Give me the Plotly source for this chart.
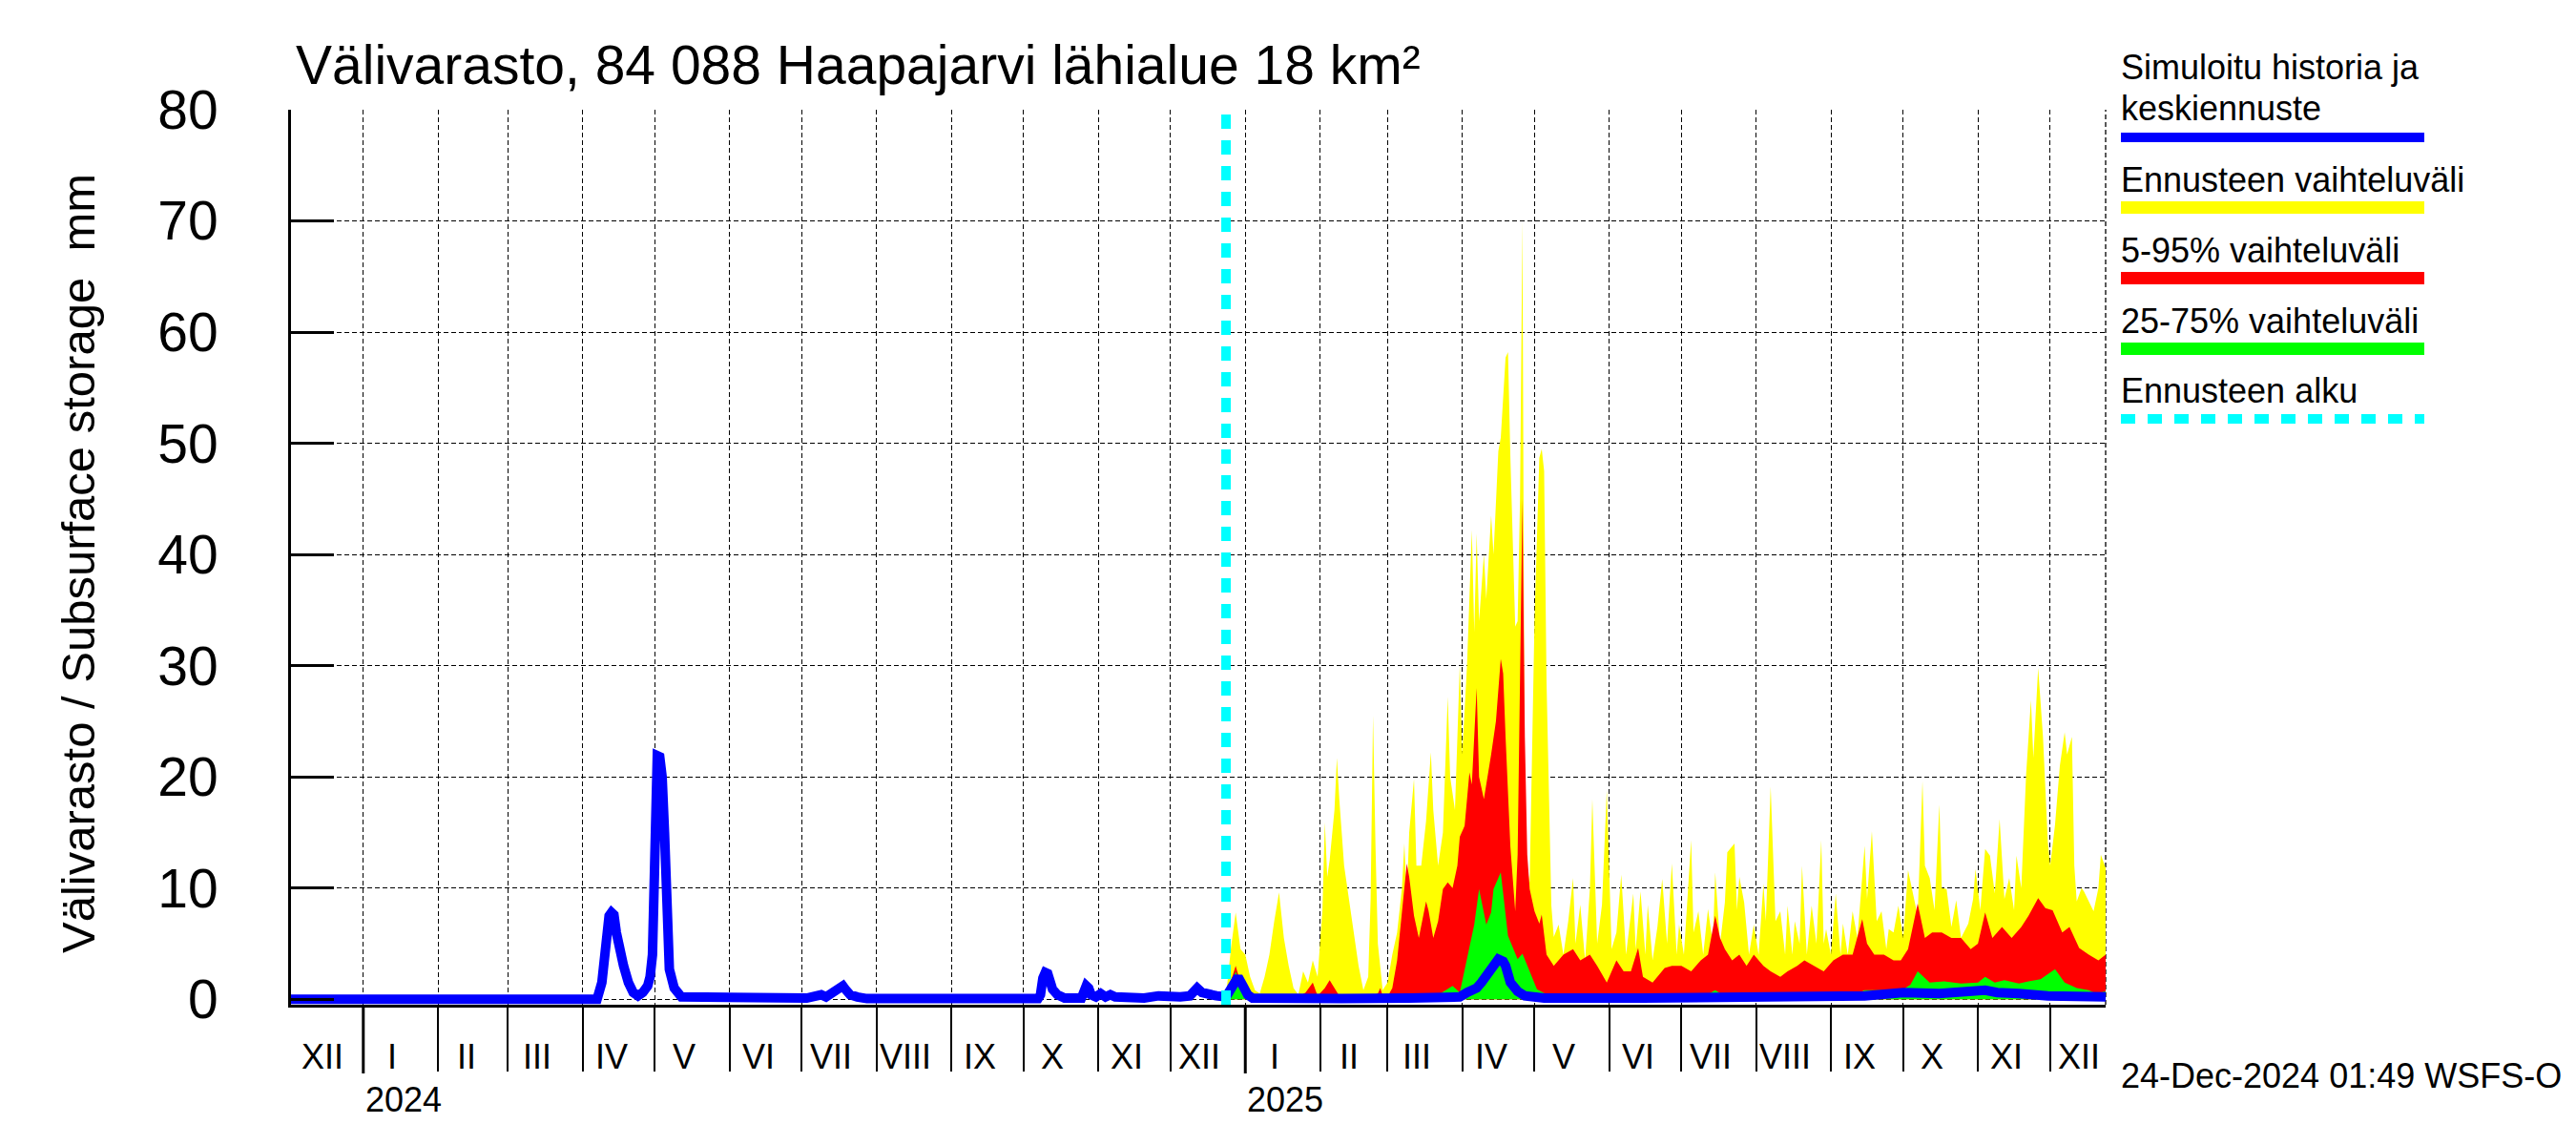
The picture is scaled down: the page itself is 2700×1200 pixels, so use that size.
import plotly.graph_objects as go
import pandas as pd

# ---------------- data ----------------
x_start, x_end = "2023-12-02", "2025-12-24"
forecast_start = "2024-12-24"
y_ticks = [0, 10, 20, 30, 40, 50, 60, 70, 80]
roman = ["I", "II", "III", "IV", "V", "VI", "VII", "VIII", "IX", "X", "XI", "XII"]
year_starts = ["2024-01-01", "2025-01-01"]
year_labels = ["2024", "2025"]

hist_dates = ["2023-12-02", "2024-04-07", "2024-04-09", "2024-04-10", "2024-04-11", "2024-04-12",
              "2024-04-13", "2024-04-14", "2024-04-15", "2024-04-16", "2024-04-18", "2024-04-20",
              "2024-04-22", "2024-04-24", "2024-04-26", "2024-04-28", "2024-04-29", "2024-04-30",
              "2024-05-01", "2024-05-02", "2024-05-03", "2024-05-04", "2024-05-05", "2024-05-06",
              "2024-05-07", "2024-05-09", "2024-05-12", "2024-07-03", "2024-07-06", "2024-07-09",
              "2024-07-11", "2024-07-13", "2024-07-15", "2024-07-17", "2024-07-18", "2024-07-19",
              "2024-07-21", "2024-07-24", "2024-07-28", "2024-10-07", "2024-10-08", "2024-10-09",
              "2024-10-10", "2024-10-11", "2024-10-12", "2024-10-13", "2024-10-15", "2024-10-18",
              "2024-10-25", "2024-10-27", "2024-10-28", "2024-10-29", "2024-10-31", "2024-11-02",
              "2024-11-04", "2024-11-06", "2024-11-08", "2024-11-12", "2024-11-20", "2024-11-26",
              "2024-12-01", "2024-12-05", "2024-12-09", "2024-12-11", "2024-12-12", "2024-12-14",
              "2024-12-17", "2024-12-20", "2024-12-24"]
hist_vals = [0.0, 0.0, 1.5, 3.5, 6.0, 7.5,
             7.8, 7.6, 6.0, 4.8, 3.0, 1.5,
             0.6, 0.3, 0.6, 1.2, 2.0, 4.0,
             14.5, 21.9, 21.8, 20.0, 15.0, 6.0,
             2.7, 1.0, 0.2, 0.1, 0.3, 0.4,
             0.2, 0.5, 0.6, 0.9, 1.2, 0.9,
             0.4, 0.2, 0.05, 0.05, 0.4, 1.9,
             2.4, 2.3, 1.6, 0.9, 0.4, 0.1,
             0.1, 1.2, 1.0, 0.4, 0.2, 0.5,
             0.2, 0.4, 0.2, 0.1, 0.1, 0.3,
             0.2, 0.2, 0.3, 0.8, 1.0, 0.6,
             0.4, 0.3, 0.2]

med_dates = ["2024-12-24", "2024-12-26", "2024-12-28", "2024-12-29", "2024-12-31", "2025-01-02",
             "2025-01-04", "2025-01-15", "2025-02-10", "2025-03-10", "2025-03-31", "2025-04-03",
             "2025-04-07", "2025-04-09", "2025-04-12", "2025-04-14", "2025-04-16", "2025-04-18",
             "2025-04-19", "2025-04-21", "2025-04-24", "2025-04-27", "2025-05-05", "2025-06-15",
             "2025-07-15", "2025-08-15", "2025-09-15", "2025-10-01", "2025-10-16", "2025-11-04",
             "2025-11-09", "2025-11-18", "2025-11-30", "2025-12-24"]
med_vals = [0.2, 1.0, 1.8, 2.0, 1.2, 0.4,
            0.1, 0.05, 0.05, 0.1, 0.2, 0.6,
            1.0, 1.5, 2.3, 3.0, 3.6, 3.4,
            3.0, 1.5, 0.7, 0.3, 0.1, 0.1,
            0.15, 0.15, 0.3, 0.6, 0.5, 0.8,
            0.6, 0.5, 0.3, 0.2]

yellow = [
    ("2024-12-24", 0.3), ("2024-12-26", 4.5), ("2024-12-28", 7.8), ("2024-12-30", 4.5),
    ("2025-01-01", 4.0), ("2025-01-03", 2.0), ("2025-01-05", 0.8), ("2025-01-07", 0.5), ("2025-01-09", 2.0),
    ("2025-01-11", 4.0), ("2025-01-13", 7.0), ("2025-01-15", 9.6), ("2025-01-17", 5.5), ("2025-01-19", 3.0),
    ("2025-01-21", 1.0), ("2025-01-23", 0.4), ("2025-01-25", 2.5), ("2025-01-27", 1.5), ("2025-01-29", 3.5),
    ("2025-01-31", 2.0),
    ("2025-02-02", 8.0), ("2025-02-03", 15.9), ("2025-02-04", 11.0), ("2025-02-05", 12.5), ("2025-02-07", 17.0),
    ("2025-02-08", 21.7), ("2025-02-09", 18.0), ("2025-02-11", 12.0), ("2025-02-13", 9.0), ("2025-02-15", 6.0),
    ("2025-02-17", 3.0), ("2025-02-19", 0.8), ("2025-02-21", 2.0), ("2025-02-22", 9.0), ("2025-02-23", 25.5),
    ("2025-02-24", 14.0), ("2025-02-25", 5.0), ("2025-02-27", 0.8),
    ("2025-03-01", 1.5), ("2025-03-03", 4.0), ("2025-03-05", 6.0), ("2025-03-07", 10.0), ("2025-03-08", 14.0),
    ("2025-03-09", 9.0), ("2025-03-10", 15.0), ("2025-03-12", 19.8), ("2025-03-13", 12.0), ("2025-03-15", 12.0),
    ("2025-03-17", 16.0), ("2025-03-19", 22.2), ("2025-03-20", 17.0), ("2025-03-22", 12.0), ("2025-03-24", 15.0),
    ("2025-03-26", 27.2), ("2025-03-27", 20.0), ("2025-03-29", 17.0), ("2025-03-31", 30.1),
    ("2025-04-01", 22.0), ("2025-04-03", 30.0), ("2025-04-05", 42.2), ("2025-04-06", 33.0), ("2025-04-07", 41.9),
    ("2025-04-08", 34.0), ("2025-04-10", 40.0), ("2025-04-11", 36.0), ("2025-04-13", 43.5), ("2025-04-14", 40.0),
    ("2025-04-16", 49.3), ("2025-04-17", 50.5), ("2025-04-19", 57.7), ("2025-04-20", 58.2), ("2025-04-21", 48.7),
    ("2025-04-23", 33.5), ("2025-04-24", 34.0), ("2025-04-25", 45.0), ("2025-04-26", 70.0), ("2025-04-27", 13.0),
    ("2025-04-29", 10.5),
    ("2025-05-01", 34.0), ("2025-05-03", 48.7), ("2025-05-04", 49.5), ("2025-05-05", 47.5), ("2025-05-06", 28.5),
    ("2025-05-08", 8.4), ("2025-05-09", 5.6), ("2025-05-11", 6.7), ("2025-05-13", 4.0), ("2025-05-15", 7.0),
    ("2025-05-17", 10.9), ("2025-05-18", 5.0), ("2025-05-20", 8.5), ("2025-05-22", 3.5), ("2025-05-24", 10.0),
    ("2025-05-25", 18.0), ("2025-05-27", 5.0), ("2025-05-29", 8.5), ("2025-05-31", 18.8),
    ("2025-06-02", 4.5), ("2025-06-04", 6.0), ("2025-06-06", 11.2), ("2025-06-08", 4.0), ("2025-06-11", 9.5),
    ("2025-06-12", 4.5), ("2025-06-14", 9.7), ("2025-06-16", 4.0), ("2025-06-17", 8.5), ("2025-06-19", 3.5),
    ("2025-06-21", 6.5), ("2025-06-23", 10.8), ("2025-06-25", 5.0), ("2025-06-27", 12.2), ("2025-06-29", 4.0),
    ("2025-06-30", 6.7),
    ("2025-07-02", 4.0), ("2025-07-05", 14.3), ("2025-07-06", 6.0), ("2025-07-08", 7.9), ("2025-07-10", 4.0),
    ("2025-07-12", 8.1), ("2025-07-14", 5.0), ("2025-07-15", 11.4), ("2025-07-17", 5.0), ("2025-07-19", 8.7),
    ("2025-07-20", 13.2), ("2025-07-23", 14.0), ("2025-07-24", 8.0), ("2025-07-25", 11.0), ("2025-07-27", 8.7),
    ("2025-07-29", 4.0), ("2025-07-31", 6.7),
    ("2025-08-02", 4.0), ("2025-08-04", 10.4), ("2025-08-05", 7.0), ("2025-08-07", 19.1), ("2025-08-09", 7.0),
    ("2025-08-11", 7.9), ("2025-08-13", 4.0), ("2025-08-14", 8.4), ("2025-08-16", 4.0), ("2025-08-17", 7.0),
    ("2025-08-19", 5.0), ("2025-08-20", 12.0), ("2025-08-22", 4.0), ("2025-08-24", 8.4), ("2025-08-26", 5.0),
    ("2025-08-28", 14.3), ("2025-08-29", 5.0), ("2025-08-30", 6.3),
    ("2025-09-01", 4.0), ("2025-09-03", 9.5), ("2025-09-05", 4.0), ("2025-09-06", 6.8), ("2025-09-08", 4.0),
    ("2025-09-10", 7.9), ("2025-09-12", 5.5), ("2025-09-15", 13.8), ("2025-09-16", 9.0), ("2025-09-18", 15.1),
    ("2025-09-20", 7.0), ("2025-09-22", 7.9), ("2025-09-24", 4.5), ("2025-09-25", 6.3), ("2025-09-27", 6.0),
    ("2025-09-29", 8.4),
    ("2025-10-01", 5.5), ("2025-10-03", 11.6), ("2025-10-05", 9.5), ("2025-10-07", 7.5), ("2025-10-09", 19.6),
    ("2025-10-10", 12.0), ("2025-10-12", 10.9), ("2025-10-14", 8.0), ("2025-10-16", 17.5), ("2025-10-17", 10.0),
    ("2025-10-19", 9.9), ("2025-10-21", 6.5), ("2025-10-23", 8.9), ("2025-10-25", 5.5), ("2025-10-28", 6.8),
    ("2025-10-30", 9.0), ("2025-10-31", 11.7),
    ("2025-11-02", 8.0), ("2025-11-04", 13.5), ("2025-11-06", 12.9), ("2025-11-08", 9.5), ("2025-11-10", 16.2),
    ("2025-11-12", 9.0), ("2025-11-14", 10.9), ("2025-11-16", 8.0), ("2025-11-17", 12.9), ("2025-11-19", 10.0),
    ("2025-11-21", 20.2), ("2025-11-23", 26.9), ("2025-11-24", 21.7), ("2025-11-26", 29.8), ("2025-11-28", 23.6),
    ("2025-11-30", 14.2),
    ("2025-12-01", 12.0), ("2025-12-03", 15.7), ("2025-12-05", 21.0), ("2025-12-07", 24.0), ("2025-12-08", 22.0),
    ("2025-12-10", 23.6), ("2025-12-11", 12.0), ("2025-12-12", 8.8), ("2025-12-14", 10.0), ("2025-12-15", 9.7),
    ("2025-12-17", 8.8), ("2025-12-19", 7.9), ("2025-12-21", 10.0), ("2025-12-22", 13.0), ("2025-12-24", 11.8),
]

red = [
    ("2024-12-24", 0.2), ("2024-12-26", 1.5), ("2024-12-28", 3.0), ("2024-12-30", 1.5), ("2025-01-01", 0.8),
    ("2025-01-03", 0.3), ("2025-01-06", 0.1), ("2025-01-22", 0.1), ("2025-01-26", 0.6), ("2025-01-29", 1.5),
    ("2025-01-31", 0.3), ("2025-02-03", 1.0), ("2025-02-05", 1.7), ("2025-02-07", 1.0), ("2025-02-09", 0.3),
    ("2025-02-20", 0.1), ("2025-02-25", 0.5), ("2025-02-26", 1.0), ("2025-02-27", 0.3), ("2025-03-01", 0.2),
    ("2025-03-03", 1.0), ("2025-03-05", 3.5), ("2025-03-07", 8.0), ("2025-03-09", 12.2), ("2025-03-10", 11.0),
    ("2025-03-12", 7.5), ("2025-03-14", 5.5), ("2025-03-17", 8.8), ("2025-03-18", 8.0), ("2025-03-20", 5.5),
    ("2025-03-22", 7.0), ("2025-03-24", 9.9), ("2025-03-26", 10.5), ("2025-03-28", 10.0), ("2025-03-30", 12.0),
    ("2025-03-31", 14.6), ("2025-04-02", 15.6), ("2025-04-04", 20.4), ("2025-04-05", 19.3), ("2025-04-07", 28.0),
    ("2025-04-08", 20.0), ("2025-04-10", 18.0), ("2025-04-13", 22.0), ("2025-04-15", 25.0), ("2025-04-17", 30.6),
    ("2025-04-18", 29.3), ("2025-04-19", 23.6), ("2025-04-20", 18.9), ("2025-04-21", 13.7), ("2025-04-23", 7.9),
    ("2025-04-24", 13.0), ("2025-04-25", 28.9), ("2025-04-26", 45.0), ("2025-04-27", 23.6), ("2025-04-28", 13.0),
    ("2025-04-29", 9.9), ("2025-05-01", 7.9), ("2025-05-03", 6.8), ("2025-05-04", 7.6), ("2025-05-06", 4.0),
    ("2025-05-09", 3.0), ("2025-05-13", 4.0), ("2025-05-17", 4.5), ("2025-05-20", 3.5), ("2025-05-24", 4.0),
    ("2025-05-27", 3.0), ("2025-05-31", 1.5), ("2025-06-04", 3.5), ("2025-06-07", 2.5), ("2025-06-10", 2.5),
    ("2025-06-13", 4.6), ("2025-06-15", 2.0), ("2025-06-19", 1.5), ("2025-06-24", 2.8), ("2025-06-27", 3.0),
    ("2025-07-01", 3.0), ("2025-07-05", 2.5), ("2025-07-09", 3.5), ("2025-07-12", 4.0), ("2025-07-15", 7.5),
    ("2025-07-17", 5.5), ("2025-07-19", 4.5), ("2025-07-22", 3.5), ("2025-07-25", 4.0), ("2025-07-28", 3.0),
    ("2025-07-31", 4.0), ("2025-08-04", 3.0), ("2025-08-07", 2.5), ("2025-08-11", 2.0), ("2025-08-14", 2.5),
    ("2025-08-18", 3.0), ("2025-08-21", 3.5), ("2025-08-25", 3.0), ("2025-08-29", 2.5), ("2025-09-02", 3.5),
    ("2025-09-06", 4.0), ("2025-09-10", 4.0), ("2025-09-14", 7.2), ("2025-09-16", 5.0), ("2025-09-19", 4.0),
    ("2025-09-23", 4.0), ("2025-09-27", 3.5), ("2025-09-30", 3.5), ("2025-10-03", 4.5), ("2025-10-07", 8.6),
    ("2025-10-10", 5.5), ("2025-10-13", 6.0), ("2025-10-17", 6.0), ("2025-10-21", 5.5), ("2025-10-25", 5.5),
    ("2025-10-29", 4.5), ("2025-11-01", 5.0), ("2025-11-04", 7.8), ("2025-11-07", 5.5), ("2025-11-11", 6.5),
    ("2025-11-15", 5.5), ("2025-11-19", 6.5), ("2025-11-22", 7.5), ("2025-11-26", 9.1), ("2025-11-29", 8.2),
    ("2025-12-02", 8.0), ("2025-12-06", 6.0), ("2025-12-09", 6.5), ("2025-12-13", 4.6), ("2025-12-17", 4.0),
    ("2025-12-21", 3.5), ("2025-12-24", 4.0),
]

green = [
    ("2024-12-24", 0.1), ("2024-12-26", 1.0), ("2024-12-28", 2.5), ("2024-12-30", 1.2), ("2025-01-01", 0.4),
    ("2025-01-03", 0.1), ("2025-03-20", 0.1), ("2025-03-25", 0.8), ("2025-03-28", 1.2), ("2025-03-31", 0.6),
    ("2025-04-03", 3.6), ("2025-04-06", 6.7), ("2025-04-08", 9.9), ("2025-04-11", 6.7), ("2025-04-13", 7.8),
    ("2025-04-14", 9.9), ("2025-04-17", 11.4), ("2025-04-18", 9.3), ("2025-04-20", 5.7), ("2025-04-24", 3.6),
    ("2025-04-26", 4.1), ("2025-04-29", 2.5), ("2025-05-02", 0.9), ("2025-05-08", 0.2), ("2025-07-10", 0.2),
    ("2025-07-15", 0.8), ("2025-07-18", 0.4), ("2025-09-10", 0.3), ("2025-09-15", 0.8), ("2025-09-22", 0.8),
    ("2025-09-29", 0.6), ("2025-10-04", 1.3), ("2025-10-07", 2.5), ("2025-10-12", 1.5), ("2025-10-18", 1.6),
    ("2025-10-25", 1.4), ("2025-11-01", 1.5), ("2025-11-04", 2.0), ("2025-11-08", 1.5), ("2025-11-12", 1.7),
    ("2025-11-18", 1.4), ("2025-11-22", 1.6), ("2025-11-27", 1.8), ("2025-12-03", 2.7), ("2025-12-07", 1.5),
    ("2025-12-12", 1.0), ("2025-12-17", 0.8), ("2025-12-20", 0.5), ("2025-12-24", 0.7),
]

title_text = "Välivarasto, 84 088 Haapajarvi lähialue 18 km²"
ytitle_text = "Välivarasto / Subsurface storage \u00a0mm"
legend_items = [
    (["Simuloitu historia ja", "keskiennuste"], "#0000ff", 10, "solid"),
    (["Ennusteen vaihteluväli"], "#ffff00", 13, "solid"),
    (["5-95% vaihteluväli"], "#ff0000", 13, "solid"),
    (["25-75% vaihteluväli"], "#00ff00", 13, "solid"),
    (["Ennusteen alku"], "#00ffff", 10, "15px,13px"),
]
stamp_text = "24-Dec-2024 01:49 WSFS-O"

# ---------------- layout geometry (pixels) ----------------
W, H = 2700, 1200
L, R, T, B = 305, 2207, 115, 1053
FONT = "Liberation Sans, Arial, Helvetica, sans-serif"
GRID_DASH = "5px,3px"


def px2x(px):
    return (px - L) / (R - L)


def py2y(py):
    return (B - py) / (B - T)


month_starts = list(pd.date_range("2024-01-01", "2025-12-01", freq="MS"))
label_dates = [pd.Timestamp("2023-12-15")] + [d + pd.Timedelta(days=12) for d in month_starts]
label_texts = ["XII"] + [roman[d.month - 1] for d in month_starts]

fig = go.Figure()
for pairs, col in [(yellow, "#ffff00"), (red, "#ff0000"), (green, "#00ff00")]:
    fig.add_trace(go.Scatter(
        x=[d for d, _ in pairs], y=[v for _, v in pairs], mode="lines",
        fill="tozeroy", fillcolor=col, line=dict(width=0, color=col),
        showlegend=False, hoverinfo="skip"))
fig.add_trace(go.Scatter(x=hist_dates, y=hist_vals, mode="lines",
                         line=dict(color="#0000ff", width=10), showlegend=False))
fig.add_trace(go.Scatter(x=med_dates, y=med_vals, mode="lines",
                         line=dict(color="#0000ff", width=10), showlegend=False))

shapes = []
# forecast start line
shapes.append(dict(type="line", xref="x", yref="paper", x0=forecast_start, x1=forecast_start,
                   y0=0, y1=1, line=dict(color="#00ffff", width=10, dash="15px,12px")))
# right border dashed
shapes.append(dict(type="line", xref="paper", yref="paper", x0=1, x1=1, y0=0, y1=1,
                   line=dict(color="black", width=1.3, dash=GRID_DASH), layer="below"))
# year ticks
for ys in year_starts:
    shapes.append(dict(type="line", xref="x", yref="paper", x0=ys, x1=ys,
                       y0=0, y1=py2y(1125), line=dict(color="black", width=3)))

annotations = []
for d, t in zip(label_dates, label_texts):
    annotations.append(dict(x=d, y=py2y(1107), xref="x", yref="paper", text=t, showarrow=False,
                            xanchor="center", yanchor="middle", font=dict(size=36)))
for ys, yl in zip(year_starts, year_labels):
    annotations.append(dict(x=ys, y=py2y(1152), xref="x", yref="paper", text=yl, showarrow=False,
                            xanchor="left", yanchor="middle", xshift=0, font=dict(size=36)))
annotations.append(dict(x=px2x(308), y=py2y(68), xref="paper", yref="paper", text=title_text,
                        showarrow=False, xanchor="left", yanchor="middle", font=dict(size=57)))
annotations.append(dict(x=px2x(82), y=py2y(591), xref="paper", yref="paper", text=ytitle_text,
                        showarrow=False, textangle=-90, xanchor="center", yanchor="middle",
                        font=dict(size=49)))
annotations.append(dict(x=px2x(2221), y=py2y(1127), xref="paper", yref="paper", text=stamp_text,
                        showarrow=False, xanchor="left", yanchor="middle", font=dict(size=36)))

# legend (text lines above colored bars)
leg_x0, leg_x1 = 2223, 2541
text_centers = [[71, 114], [188], [262], [336], [409]]
bar_centers = [144, 217.5, 291.5, 365.5, 439]
for (lines, col, wid, dash), tcs, bc in zip(legend_items, text_centers, bar_centers):
    for ln, tc in zip(lines, tcs):
        annotations.append(dict(x=px2x(leg_x0 - 2), y=py2y(tc), xref="paper", yref="paper", text=ln,
                                showarrow=False, xanchor="left", yanchor="middle", font=dict(size=36)))
    shapes.append(dict(type="line", xref="paper", yref="paper", x0=px2x(leg_x0), x1=px2x(leg_x1),
                       y0=py2y(bc), y1=py2y(bc), line=dict(color=col, width=wid, dash=dash)))

fig.update_layout(
    width=W, height=H,
    margin=dict(l=L, r=W - R, t=T, b=H - B, pad=0),
    plot_bgcolor="white", paper_bgcolor="white",
    font=dict(family=FONT, color="black"),
    showlegend=False,
    shapes=shapes, annotations=annotations,
    xaxis=dict(type="date", range=[x_start, x_end], tickvals=month_starts, ticks="outside",
               ticklen=67, tickwidth=1.5, tickcolor="black", showticklabels=False,
               showgrid=True, gridcolor="black", gridwidth=1.3, griddash=GRID_DASH,
               showline=True, linewidth=3, linecolor="black", zeroline=False),
    yaxis=dict(range=[-0.5, 80], tickvals=y_ticks, ticks="inside", ticklen=45, tickwidth=3,
               tickcolor="black", showline=True, linewidth=3, linecolor="black",
               showgrid=True, gridcolor="black", gridwidth=1.3, griddash=GRID_DASH,
               zeroline=False, tickfont=dict(size=57), ticklabelstandoff=62),
)

fig.write_html("out.html", include_plotlyjs=True, full_html=True,
               config={"displayModeBar": False},
               post_script="document.body.style.margin='0';document.body.style.overflow='hidden';")
